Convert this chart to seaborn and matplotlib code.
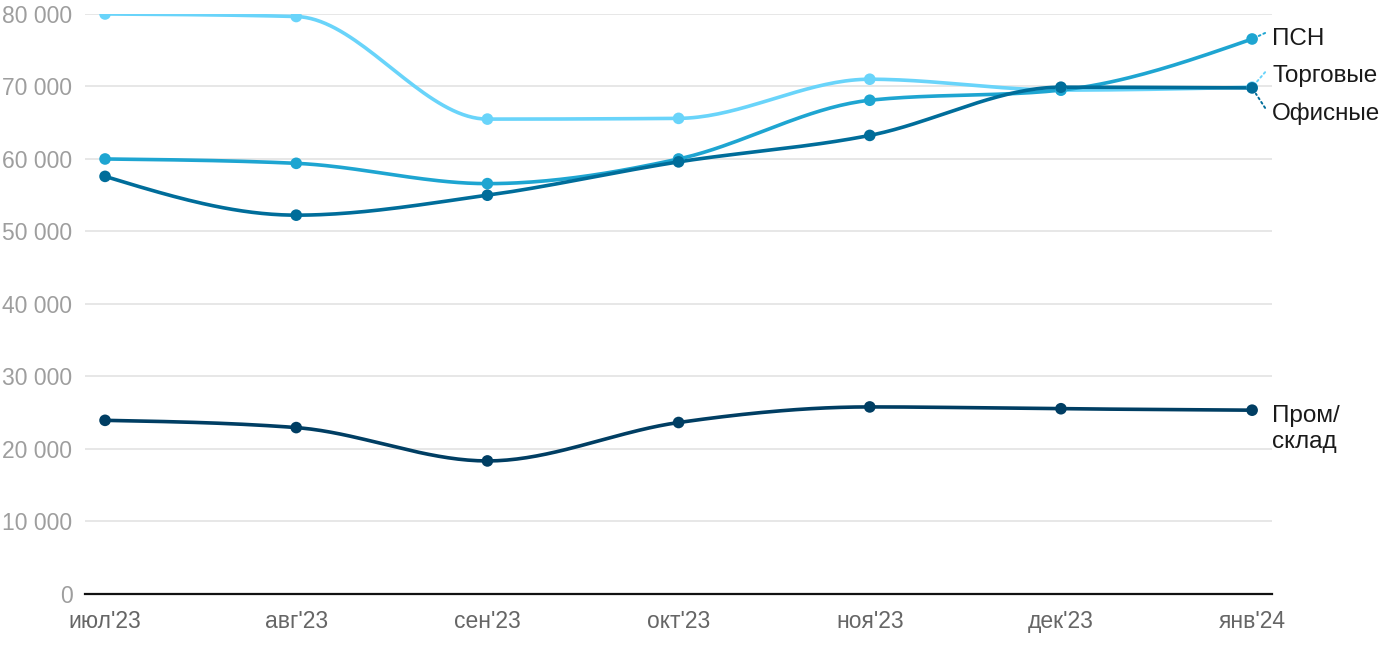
import numpy as np
import pandas as pd
import matplotlib
matplotlib.use("Agg")
import matplotlib.pyplot as plt
import seaborn as sns

# Data
months = ["июл'23", "авг'23", "сен'23", "окт'23", "ноя'23", "дек'23", "янв'24"]
trade = [80000, 79650, 65500, 65600, 71000, 69500, 69900]      # Торговые
psn = [60000, 59400, 56600, 60000, 68100, 69500, 76550]        # ПСН
office = [57600, 52250, 55000, 59600, 63250, 69900, 69800]     # Офисные
industrial = [23950, 22950, 18350, 23650, 25800, 25550, 25350]  # Пром/склад

series_names = ["Торговые", "ПСН", "Офисные", "Пром/склад"]
series_values = [trade, psn, office, industrial]
colors = ["#69d4fa", "#1ea5d1", "#006d9a", "#003e63"]


def monotone_curve(y, n=40):
    # monotone cubic (d3 curveMonotoneX style) just for drawing the smooth line
    y = np.asarray(y, dtype=float)
    x = np.arange(len(y), dtype=float)
    s = np.diff(y)
    t = np.zeros(len(y))
    for i in range(1, len(y) - 1):
        s0, s1 = s[i - 1], s[i]
        p = (s0 + s1) / 2
        t[i] = (np.sign(s0) + np.sign(s1)) * min(abs(s0), abs(s1), 0.5 * abs(p))
    t[0] = (3 * s[0] - t[1]) / 2
    t[-1] = (3 * s[-1] - t[-2]) / 2
    xs, ys = [], []
    for i in range(len(y) - 1):
        u = np.linspace(0, 1, n)
        h00 = 2 * u**3 - 3 * u**2 + 1
        h10 = u**3 - 2 * u**2 + u
        h01 = -2 * u**3 + 3 * u**2
        h11 = u**3 - u**2
        xs.append(x[i] + u)
        ys.append(h00 * y[i] + h10 * t[i] + h01 * y[i + 1] + h11 * t[i + 1])
    return np.concatenate(xs), np.concatenate(ys)


sns.set_theme(style="white")
plt.rcParams["font.family"] = ["Liberation Sans", "DejaVu Sans"]

fig = plt.figure(figsize=(14, 6.5), dpi=100)
ax = fig.add_axes([0.0607, 0.0862, 0.848, 0.8923])

for name, vals, col in zip(series_names, series_values, colors):
    cx, cy = monotone_curve(vals)
    sns.lineplot(x=cx, y=cy, ax=ax, color=col, linewidth=2.6, sort=False)
    pts = pd.DataFrame({"x": np.arange(len(vals)), "y": vals})
    sns.scatterplot(data=pts, x="x", y="y", ax=ax, color=col, s=70,
                    edgecolor="none", zorder=5)

ax.set_xlim(-0.105, 6.105)
ax.set_ylim(0, 80000)
ax.set_yticks(np.arange(0, 80001, 10000))
ax.set_yticklabels([f"{v:,}".replace(",", " ") for v in range(0, 80001, 10000)])
ax.set_xticks(range(len(months)))
ax.set_xticklabels(months)
ax.yaxis.grid(True, color="#e3e3e3", linewidth=1.2)
ax.set_axisbelow(True)
ax.tick_params(axis="y", length=0, labelsize=16.5, labelcolor="#9e9e9e", pad=9)
ax.tick_params(axis="x", length=0, labelsize=16.5, labelcolor="#666666", pad=11.5)
ax.set_xlabel("")
ax.set_ylabel("")
for sp in ["top", "right", "left"]:
    ax.spines[sp].set_visible(False)
ax.spines["bottom"].set_color("#111111")
ax.spines["bottom"].set_linewidth(1.6)

# right-side labels with short dotted leaders
last = len(months) - 1
label_style = dict(textcoords="offset pixels", fontsize=17.5, color="#1a1a1a",
                   ha="left", annotation_clip=False)
leaders = [
    ("ПСН", psn[-1], 0, colors[1], (13, 6)),
    ("Торговые", trade[-1], 11, colors[0], (13, 15)),
    ("Офисные", office[-1], -26, colors[2], (13, -20)),
]
for text, val, dy, col, lead in leaders:
    ax.annotate("", xy=(last, val), xytext=lead, textcoords="offset pixels",
                arrowprops=dict(arrowstyle="-", linestyle=":", color=col,
                                linewidth=1.4, shrinkA=0, shrinkB=5),
                annotation_clip=False)
    ax.annotate(text, xy=(last, val), xytext=(20, dy), va="center", **label_style)

ax.annotate("Пром/\nсклад", xy=(last, industrial[-1]), xytext=(20, 5),
            va="top", linespacing=1.25, **label_style)

fig.savefig("out.png", dpi=100)
